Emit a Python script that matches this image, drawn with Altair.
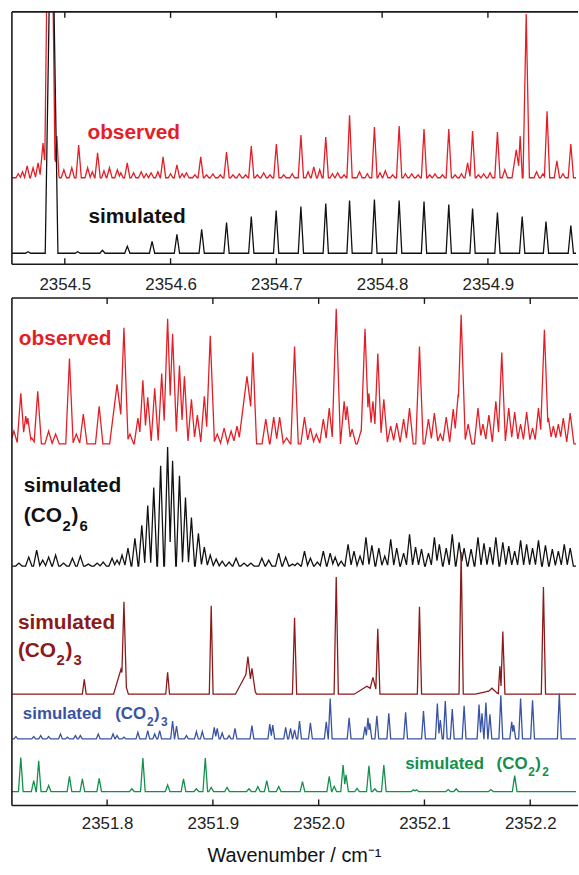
import altair as alt
import pandas as pd

FONT = "Liberation Sans"
RED = "#e41e26"
BLACK = "#111111"
BROWN = "#8b1a1a"
BLUE = "#3953a4"
GREEN = "#13904b"
FRAME = "#1a1a1a"

# ---------------- tick labels ----------------
top_ticks = [2354.5, 2354.6, 2354.7, 2354.8, 2354.9]
bot_ticks = [2351.8, 2351.9, 2352.0, 2352.1, 2352.2]
top_domain = [2354.45, 2354.9833]
bot_domain = [2351.71, 2352.2433]

# ---------------- top panel: observed ----------------
top_obs_pos = [2354.4644, 2354.4700, 2354.4747, 2354.4794, 2354.4859, 2354.4859, 2354.4925, 2354.4991,
               2354.5066, 2354.5131, 2354.5216, 2354.5310, 2354.5422, 2354.5497, 2354.5590, 2354.5722,
               2354.5816, 2354.5929, 2354.6060, 2354.6150, 2354.6285, 2354.6400, 2354.6529, 2354.6650,
               2354.6763, 2354.6880, 2354.7000, 2354.7232, 2354.7354, 2354.7467, 2354.7580, 2354.7692,
               2354.7786, 2354.7927, 2354.8030, 2354.8161, 2354.8280, 2354.8396, 2354.8500, 2354.8630,
               2354.8808, 2354.8855, 2354.8960, 2354.9090, 2354.9160, 2354.9268, 2354.9305, 2354.9362,
               2354.9460, 2354.9559, 2354.9652, 2354.9784]
top_obs_amp = [12, 10, 15, 35, 450, 40, 42, 8, 10, 33, 10, 25, 10, 8, 15, 6, 5, 21, 13, 5, 21, 4, 26, 4,
               32, 5, 34, 43, 11, 41, 5, 63, 6, 51, 7, 52, 4, 49, 4, 49, 15, 47, 4, 46, 8, 28, 42, 165,
               6, 67, 17, 34]
top_obs_wid = [0.0025, 0.0025, 0.0025, 0.003, 0.005, 0.009, 0.002, 0.0025, 0.0025, 0.0025, 0.0025, 0.0025,
               0.0025, 0.0025, 0.0025, 0.0025, 0.0025, 0.0025, 0.0025, 0.0025, 0.0025, 0.0025, 0.0025, 0.0025,
               0.0025, 0.0025, 0.0025, 0.0025, 0.0025, 0.0025, 0.0025, 0.0025, 0.0025, 0.0025, 0.0025, 0.0025,
               0.0025, 0.0025, 0.0025, 0.0025, 0.0025, 0.0025, 0.0025, 0.0025, 0.0025, 0.004, 0.002, 0.003,
               0.0025, 0.0025, 0.0025, 0.0025]
# small baseline wiggles of the observed top trace
top_noise_pos = [2354.4560, 2354.4600, 2354.5260, 2354.5370, 2354.5530, 2354.5650, 2354.5770, 2354.5880,
                 2354.6000, 2354.6110, 2354.6230, 2354.6340, 2354.6470, 2354.6590, 2354.6710, 2354.6820,
                 2354.6940, 2354.7070, 2354.7150, 2354.7300, 2354.7410, 2354.7530, 2354.7640, 2354.7860,
                 2354.7980, 2354.8100, 2354.8220, 2354.8340, 2354.8450, 2354.8570, 2354.8690, 2354.8750,
                 2354.8910, 2354.9020, 2354.9520, 2354.9710]
top_noise_amp = [4, 6, 6, 7, 5, 5, 4, 6, 4, 4, 3, 3, 3, 3, 3, 3, 3, 3, 4, 6, 8, 4, 3, 4,
                 5, 3, 4, 3, 3, 3, 3, 4, 3, 5, 4, 4]

# ---------------- top panel: simulated ----------------
top_sim_pos = [2354.4653, 2354.4875, 2354.5122, 2354.5356, 2354.5591, 2354.5825, 2354.6060, 2354.6294,
               2354.6529, 2354.6763, 2354.6998, 2354.7232, 2354.7467, 2354.7692, 2354.7927, 2354.8161,
               2354.8396, 2354.8630, 2354.8855, 2354.9090, 2354.9324, 2354.9549, 2354.9784]
top_sim_amp = [1.5, 400, 1.5, 3, 7, 12, 19, 24, 31, 37, 43, 47, 50, 53, 54, 53, 52, 49, 45, 41, 37, 32, 28]
top_sim_wid = [0.0025, 0.006] + [0.0025] * 21

# ---------------- bottom panel: observed ----------------
bot_obs_pos = [2351.7119, 2351.7184, 2351.7231, 2351.7250, 2351.7288, 2351.7344, 2351.7447, 2351.7513,
               2351.7644, 2351.7709, 2351.7775, 2351.7925, 2351.8094, 2351.8159, 2351.8216, 2351.8291,
               2351.8338, 2351.8384, 2351.8450, 2351.8516, 2351.8572, 2351.8619, 2351.8684, 2351.8731,
               2351.8797, 2351.8853, 2351.8919, 2351.8975, 2351.9041, 2351.9106, 2351.9172, 2351.9228,
               2351.9322, 2351.9378, 2351.9500, 2351.9575, 2351.9631, 2351.9697, 2351.9772, 2351.9866,
               2351.9922, 2351.9978, 2352.0044, 2352.0100, 2352.0166, 2352.0241, 2352.0269, 2352.0316,
               2352.0400, 2352.0438, 2352.0475, 2352.0513, 2352.0559, 2352.0616, 2352.0681, 2352.0738,
               2352.0803, 2352.0859, 2352.0953, 2352.1038, 2352.1094, 2352.1150, 2352.1206, 2352.1272,
               2352.1319, 2352.1347, 2352.1413, 2352.1506, 2352.1553, 2352.1609, 2352.1675, 2352.1731,
               2352.1797, 2352.1853, 2352.1909, 2352.1966, 2352.2022, 2352.2078, 2352.2134, 2352.2172,
               2352.2219, 2352.2266, 2352.2313, 2352.2378]
bot_obs_amp = [13, 51, 28, 26, 6, 53, 13, 10, 86, 10, 30, 38, 60, 117, 10, 26, 64, 47, 56, 71,
               126, 111, 79, 68, 45, 29, 48, 109, 10, 16, 13, 18, 68, 92, 25, 27, 27, 6, 98, 27,
               16, 10, 25, 36, 136, 43, 38, 15, 13, 116, 51, 43, 91, 45, 18, 21, 25, 36, 98, 25,
               31, 10, 27, 35, 50, 130, 20, 36, 20, 29, 43, 92, 36, 32, 20, 32, 16, 36, 115, 26,
               18, 20, 26, 31]
bot_obs_wid = ([0.0035] * 12 + [0.007, 0.004] + [0.0035] * 6 + [0.004, 0.004] + [0.0035] * 5 + [0.004]
               + [0.0035] * 4 + [0.008] + [0.0035] * 11 + [0.004] + [0.0035] * 4 + [0.004]
               + [0.0035] * 14 + [0.004, 0.004] + [0.0035] * 12 + [0.004] + [0.0035] * 5)

# ---------------- bottom panel: simulated (CO2)6 ----------------
hex_pos = [2351.7166, 2351.7259, 2351.7334, 2351.7391, 2351.7447, 2351.7513, 2351.7588, 2351.7672,
           2351.7747, 2351.7822, 2351.7906, 2351.7963, 2351.8047, 2351.8094, 2351.8141, 2351.8197,
           2351.8263, 2351.8328, 2351.8384, 2351.8441, 2351.8506, 2351.8572, 2351.8619, 2351.8684,
           2351.8741, 2351.8797, 2351.8863, 2351.8919, 2351.8975, 2351.9031, 2351.9088, 2351.9153,
           2351.9219, 2351.9294, 2351.9359, 2351.9463, 2351.9528, 2351.9622, 2351.9688, 2351.9753,
           2351.9800, 2351.9866, 2351.9922, 2351.9988, 2352.0044, 2352.0109, 2352.0156, 2352.0213,
           2352.0278, 2352.0334, 2352.0391, 2352.0447, 2352.0503, 2352.0569, 2352.0625, 2352.0681,
           2352.0738, 2352.0803, 2352.0859, 2352.0916, 2352.0972, 2352.1038, 2352.1094, 2352.1141,
           2352.1206, 2352.1263, 2352.1328, 2352.1375, 2352.1441, 2352.1506, 2352.1563, 2352.1619,
           2352.1675, 2352.1741, 2352.1797, 2352.1853, 2352.1909, 2352.1966, 2352.2022, 2352.2078,
           2352.2144, 2352.2209, 2352.2266, 2352.2322, 2352.2378]
hex_amp = [3, 9, 16, 6, 9, 11, 3, 8, 10, 2, 3, 4, 8, 6, 11, 18, 28, 41, 61, 79,
           101, 120, 106, 91, 69, 49, 33, 19, 11, 7, 5, 4, 8, 3, 3, 8, 6, 13, 9, 2,
           3, 15, 8, 4, 15, 13, 9, 5, 22, 15, 10, 29, 21, 18, 10, 27, 18, 13, 32, 19,
           17, 13, 29, 22, 18, 32, 24, 18, 17, 29, 23, 19, 29, 24, 20, 15, 26, 22, 18, 26,
           21, 17, 15, 22, 18]
hex_wid = [0.003] * len(hex_pos)

# ---------------- bottom panel: simulated (CO2)3, brown ----------------
tri_pos = [2351.7784, 2351.8131, 2351.8159, 2351.8572, 2351.8984, 2351.9313, 2351.9331, 2351.9369,
           2351.9772, 2352.0166, 2352.0456, 2352.0513, 2352.0559, 2352.0953, 2352.1347, 2352.1600,
           2352.1638, 2352.1713, 2352.1741, 2352.2125]
tri_amp = [15, 25, 93, 22, 89, 20, 38, 26, 77, 118, 8, 17, 66, 88, 143, 3, 6, 28, 63, 108]
tri_wid = [0.0018, 0.007, 0.0025, 0.0018, 0.0018, 0.010, 0.004, 0.0035, 0.002, 0.002, 0.012, 0.004,
           0.002, 0.002, 0.002, 0.012, 0.006, 0.0015, 0.002, 0.002]

# ---------------- bottom panel: simulated (CO2)3, blue ----------------
tri2_pos = [2351.7138, 2351.7306, 2351.7372, 2351.7447, 2351.7559, 2351.7625, 2351.7700, 2351.7747,
            2351.7916, 2351.8056, 2351.8094, 2351.8159, 2351.8291, 2351.8384, 2351.8450, 2351.8497,
            2351.8619, 2351.8656, 2351.8750, 2351.8844, 2351.8900, 2351.9013, 2351.9041, 2351.9088,
            2351.9153, 2351.9209, 2351.9369, 2351.9538, 2351.9566, 2351.9688, 2351.9734, 2351.9772,
            2351.9819, 2351.9922, 2352.0072, 2352.0109, 2352.0288, 2352.0438, 2352.0466, 2352.0484,
            2352.0550, 2352.0663, 2352.0822, 2352.0991, 2352.1122, 2352.1150, 2352.1197, 2352.1263,
            2352.1375, 2352.1516, 2352.1544, 2352.1581, 2352.1619, 2352.1722, 2352.1825, 2352.1844,
            2352.1909, 2352.2022, 2352.2275]
tri2_amp = [2.3, 2.3, 3.3, 2.3, 5, 1.7, 3.3, 3.3, 5, 5, 3.3, 1.7, 6.7, 8.3, 5, 8.3, 18, 13, 3.3, 7.3,
            7.3, 11.7, 10.7, 6, 3.3, 10.7, 13.3, 15, 14, 11.7, 10.7, 9, 18, 16.3, 17.3, 40.7, 21.3, 12.3,
            21.3, 15.7, 23.3, 25.7, 26.7, 28, 35.7, 19, 38, 30, 33.3, 34.7, 25.7, 36.7, 24.7, 44, 17.3,
            14, 40.7, 39, 45.7]
tri2_wid = [0.0018] * len(tri2_pos)

# ---------------- bottom panel: simulated (CO2)2, green ----------------
di_pos = [2351.7184, 2351.7306, 2351.7353, 2351.7447, 2351.7644, 2351.7766, 2351.7925, 2351.8234,
          2351.8338, 2351.8572, 2351.8722, 2351.8844, 2351.8928, 2351.8984, 2351.9134, 2351.9341,
          2351.9425, 2351.9509, 2351.9622, 2351.9847, 2352.0100, 2352.0147, 2352.0231, 2352.0259,
          2352.0363, 2352.0475, 2352.0531, 2352.0616, 2352.0897, 2352.0925, 2352.1225, 2352.1300,
          2352.1628, 2352.1853]
di_amp = [34.3, 11, 31, 6, 15.3, 12.7, 13.3, 2.7, 33.7, 6.7, 12.7, 2.7, 33.7, 4.3, 4.3, 2.7, 5, 11, 5,
          10, 15.3, 5.3, 26.7, 16.7, 3.3, 26, 2.7, 26.7, 1.7, 1.7, 2, 2.7, 2, 16]
di_wid = [0.0022] * len(di_pos)


def envelope(pos, amp, wid, base, lo, hi):
    """Upper envelope of triangular peak profiles, evaluated at its breakpoints."""
    tris = sorted(zip(pos, amp, wid))
    xs = {lo, hi}
    for p, a, w in tris:
        xs.update((p - w, p, p + w))

    def segs(p, a, w):
        return [(p - w - lo, 0.0, p - lo, a), (p - lo, a, p + w - lo, 0.0)]

    for i in range(len(tris)):
        for j in range(i + 1, len(tris)):
            p1, a1, w1 = tris[i]
            p2, a2, w2 = tris[j]
            if abs(p1 - p2) >= w1 + w2:
                continue
            for (x0, y0, x1, y1) in segs(p1, a1, w1):
                for (u0, v0, u1, v1) in segs(p2, a2, w2):
                    m1 = (y1 - y0) / (x1 - x0)
                    m2 = (v1 - v0) / (u1 - u0)
                    if m1 == m2:
                        continue
                    c1 = y0 - m1 * x0
                    c2 = v0 - m2 * u0
                    x = (c2 - c1) / (m1 - m2)
                    if max(x0, u0) <= x <= min(x1, u1):
                        xs.add(x + lo)
    rows = []
    for x in sorted(xs):
        if x < lo or x > hi:
            continue
        h = max([a * (1 - abs(x - p) / w) for p, a, w in tris if abs(x - p) < w], default=0.0)
        rows.append({"wn": x, "y": base + h})
    return pd.DataFrame(rows)


def xenc(domain, ticks, pad, title=None):
    return alt.X("wn:Q", scale=alt.Scale(domain=domain, nice=False, zero=False),
                 axis=alt.Axis(values=ticks, ticks=False, domain=False, grid=False, format=".1f",
                               labelFlush=False, labelPadding=pad, labelFont=FONT, labelFontSize=17,
                               labelColor="#222222", titleFont=FONT, titleFontSize=20,
                               titleFontWeight="normal", titleColor="#111111", titlePadding=14),
                 title=title)


def line(df, color, domain, ticks, pad, H, title=None):
    return alt.Chart(df).mark_line(color=color, strokeWidth=1.3, clip=True).encode(
        x=xenc(domain, ticks, pad, title),
        y=alt.Y("y:Q", scale=alt.Scale(domain=[0, H], nice=False, zero=False), axis=None),
    )


def frame_layers(domain, ticks, pad, H, W, title=None):
    df = pd.DataFrame({"wn": ticks})
    t = alt.Chart(df).mark_rule(color=FRAME, strokeWidth=1.4).encode(
        x=xenc(domain, ticks, pad, title), y=alt.value(0), y2=alt.value(6))
    b = alt.Chart(df).mark_rule(color=FRAME, strokeWidth=1.4).encode(
        x=xenc(domain, ticks, pad, title), y=alt.value(H - 6), y2=alt.value(H))
    one = alt.Data(values=[{}])
    left = alt.Chart(one).mark_rule(color=FRAME, strokeWidth=1.6).encode(
        x=alt.value(0), y=alt.value(0), y2=alt.value(H))
    topl = alt.Chart(one).mark_rule(color=FRAME, strokeWidth=1.6).encode(
        x=alt.value(0), x2=alt.value(W + 2), y=alt.value(0))
    botl = alt.Chart(one).mark_rule(color=FRAME, strokeWidth=1.6).encode(
        x=alt.value(0), x2=alt.value(W + 2), y=alt.value(H))
    return [t, b, left, topl, botl]


def note(text, x, y, color, size):
    return alt.Chart(alt.Data(values=[{}])).mark_text(
        text=text, align="left", baseline="middle", font=FONT, fontWeight="bold",
        fontSize=size, color=color).encode(x=alt.value(x), y=alt.value(y))


W = 568
H_TOP = 254
H_BOT = 511
PAD_TOP = 13
PAD_BOT = 10

top_args = (top_domain, top_ticks, PAD_TOP)
top_layers = [
    line(envelope(top_obs_pos + top_noise_pos, top_obs_amp + top_noise_amp,
                  top_obs_wid + [0.0022] * len(top_noise_pos), 87, *top_domain),
         RED, *top_args, H_TOP),
    line(envelope(top_sim_pos, top_sim_amp, top_sim_wid, 11, *top_domain), BLACK, *top_args, H_TOP),
] + frame_layers(*top_args, H_TOP, W) + [
    note("observed", 76, 122, RED, 21),
    note("simulated", 77, 207, BLACK, 21),
]
top = alt.layer(*top_layers).properties(width=W, height=H_TOP)

TITLE = "Wavenumber / cm⁻¹"
bot_args = (bot_domain, bot_ticks, PAD_BOT)
bot_layers = [
    line(envelope(bot_obs_pos, bot_obs_amp, bot_obs_wid, 364, *bot_domain), RED, *bot_args, H_BOT, TITLE),
    line(envelope(hex_pos, hex_amp, hex_wid, 241, *bot_domain), BLACK, *bot_args, H_BOT, TITLE),
    line(envelope(tri_pos, tri_amp, tri_wid, 112, *bot_domain), BROWN, *bot_args, H_BOT, TITLE),
    line(envelope(tri2_pos, tri2_amp, tri2_wid, 67, *bot_domain), BLUE, *bot_args, H_BOT, TITLE),
    line(envelope(di_pos, di_amp, di_wid, 14, *bot_domain), GREEN, *bot_args, H_BOT, TITLE),
] + frame_layers(*bot_args, H_BOT, W, TITLE) + [
    note("observed", 7, 41, RED, 21),
    note("simulated", 12, 189, BLACK, 21),
    note("(CO", 12, 220, BLACK, 21),
    note("2", 51, 230, BLACK, 15),
    note(")", 60, 220, BLACK, 21),
    note("6", 68, 230, BLACK, 15),
    note("simulated", 6, 327, BROWN, 21),
    note("(CO", 6, 356, BROWN, 21),
    note("2", 45, 365, BROWN, 15),
    note(")", 54, 356, BROWN, 21),
    note("3", 62, 365, BROWN, 15),
    note("simulated", 11, 419, BLUE, 17),
    note("(CO", 104, 419, BLUE, 17),
    note("2", 136, 427, BLUE, 12),
    note(")", 143, 419, BLUE, 17),
    note("3", 150, 427, BLUE, 12),
    note("simulated", 396, 469, GREEN, 17),
    note("(CO", 488, 469, GREEN, 17),
    note("2", 520, 477, GREEN, 12),
    note(")", 527, 469, GREEN, 17),
    note("2", 534, 477, GREEN, 12),
]
bottom = alt.layer(*bot_layers).properties(width=W, height=H_BOT)

chart = alt.vconcat(top, bottom, spacing=4).properties(
    padding={"left": 11, "top": 8, "right": 0, "bottom": 0},
    background="white",
).configure_view(
    strokeWidth=0
)

chart.save("out.html", embed_options={"renderer": "svg", "actions": False})
